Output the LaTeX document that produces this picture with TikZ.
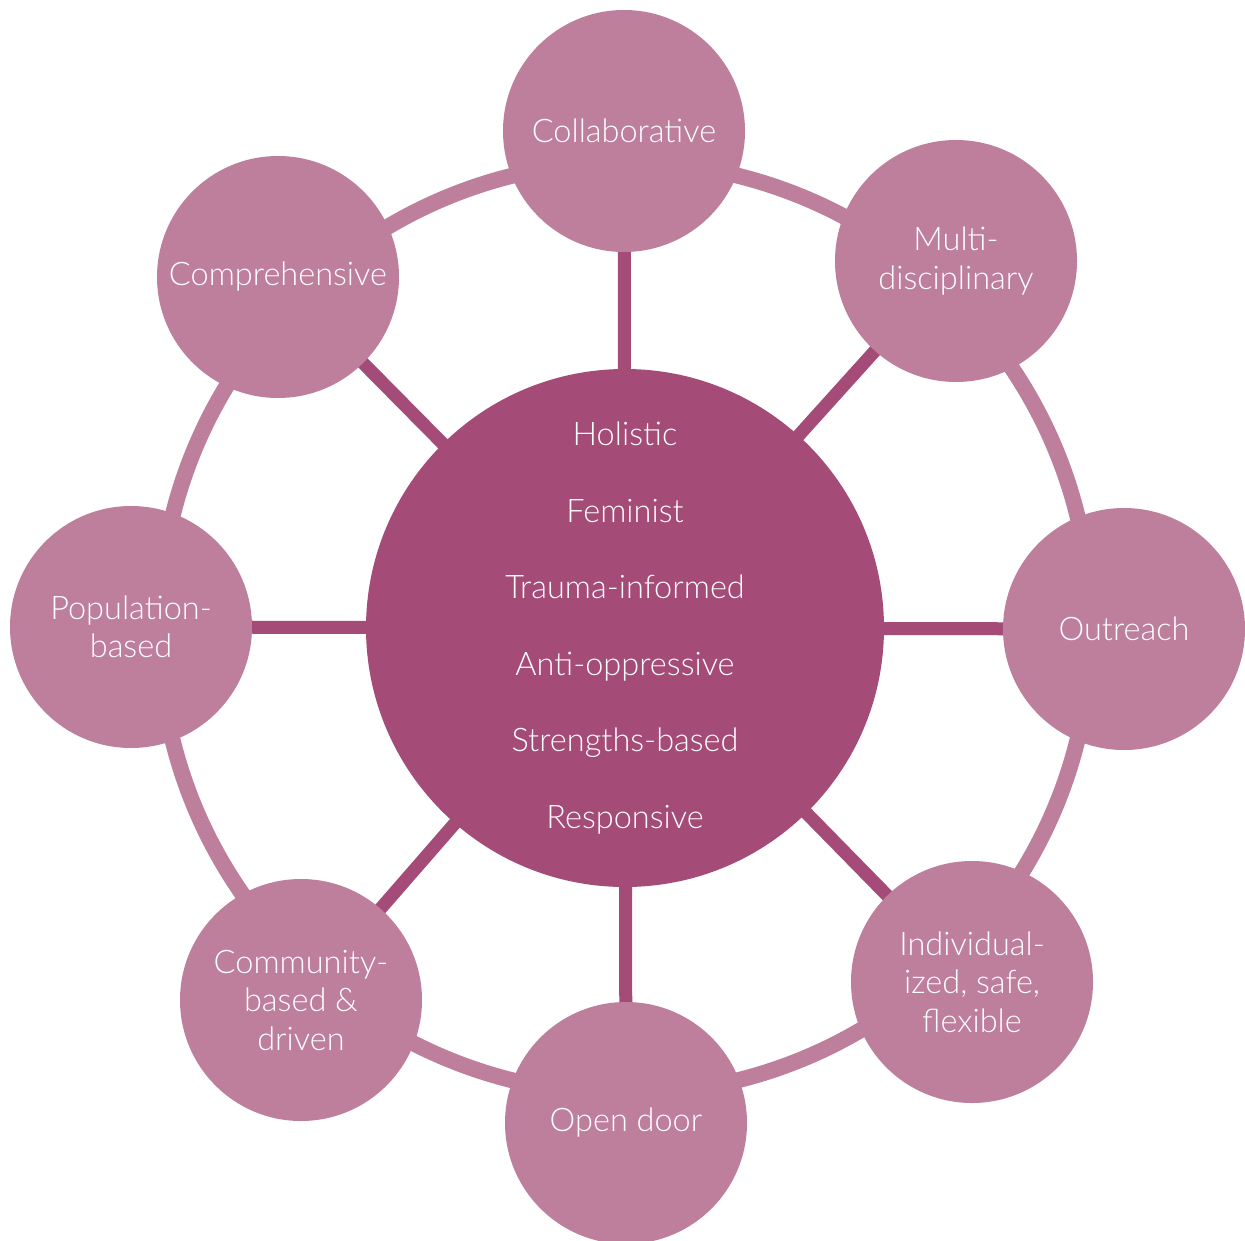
\documentclass[tikz,border=0pt]{standalone}
\usepackage{fontspec}
\setmainfont{Lato Light}
\definecolor{hubcol}{HTML}{A44B78}
\definecolor{satcol}{HTML}{BD7F9B}
\begin{document}
\begin{tikzpicture}[x=1pt,y=-1pt,
  hub/.style={circle,fill=hubcol,minimum size=518pt,inner sep=0pt,text=white,
    align=center,font=\fontsize{32.5}{76.6}\selectfont},
  sat/.style={circle,fill=satcol,minimum size=242pt,inner sep=0pt,text=white,
    align=center,font=\fontsize{32.5}{38.5}\selectfont},
  ring/.style={draw=satcol,line width=16pt},
  spoke/.style={draw=hubcol,line width=13pt}]
\useasboundingbox (0,0) rectangle (1245,1241);

% centres of the circles
\coordinate (c0) at (625,628);
\coordinate (p1) at (624,131);
\coordinate (p2) at (956,261);
\coordinate (p3) at (1124,629);
\coordinate (p4) at (972,982);
\coordinate (p5) at (626,1123);
\coordinate (p6) at (301,1000);
\coordinate (p7) at (131,627);
\coordinate (p8) at (278,277);

% ring linking the satellites
\draw[ring] (c0) circle[radius=466pt];

% spokes from the hub to every satellite
\foreach \i in {1,...,8} \draw[spoke] (c0) -- (p\i);

% hub
\node[hub] (hub) at (c0) {Holistic\\Feminist\\Trauma-informed\\Anti-oppressive\\Strengths-based\\Responsive};

% satellites
\node[sat] (collab) at (p1) {Collaborative};
\node[sat] (multi)  at (p2) {Multi-\\disciplinary};
\node[sat] (outr)   at (p3) {Outreach};
\node[sat] (indiv)  at (p4) {Individual-\\ized, safe,\\flexible};
\node[sat] (open)   at (p5) {Open door};
\node[sat] (comm)   at (p6) {Community-\\based \&\\driven};
\node[sat] (popul)  at (p7) {Population-\\based};
\node[sat] (compr)  at (p8) {Comprehensive};
\end{tikzpicture}
\end{document}
